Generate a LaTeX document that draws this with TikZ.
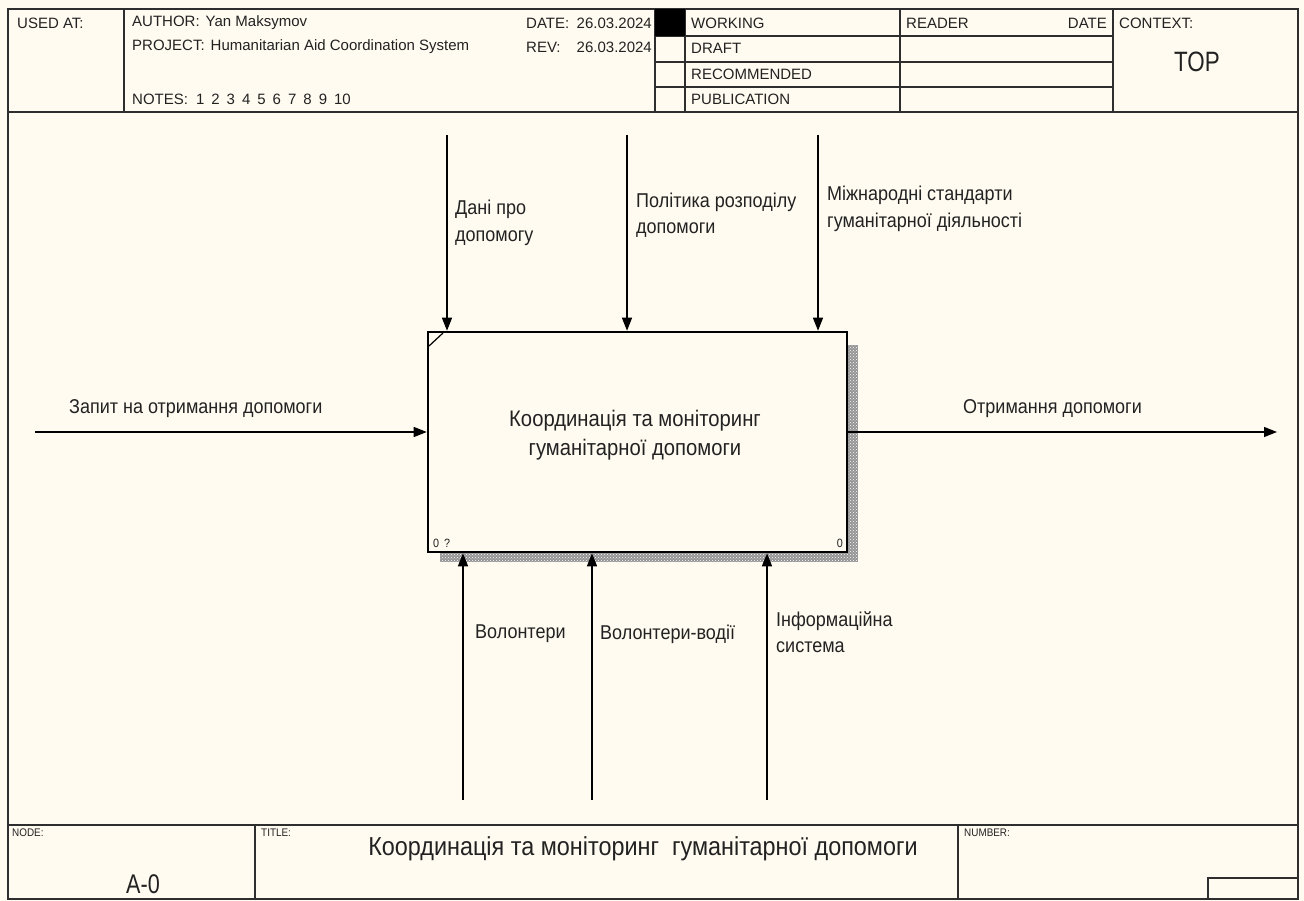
\documentclass[tikz,border=0pt]{standalone}
\usepackage{fontspec}
\setmainfont{Liberation Sans}
\newfontfamily\nf[FakeStretch=0.9]{Liberation Sans}
\newfontfamily\nnf[FakeStretch=0.8]{Liberation Sans}
\usetikzlibrary{arrows.meta,patterns}
\definecolor{bg}{HTML}{FFFBF0}
\definecolor{ln}{HTML}{2E2E2E}
\definecolor{tx}{HTML}{222222}
\tikzset{
  hdr/.style={font=\fontsize{15}{17}\selectfont, inner sep=0pt, anchor=west, text=tx},
  hdrr/.style={hdr, anchor=east},
  small/.style={font=\nf\fontsize{11}{12}\selectfont, inner sep=0pt, anchor=north west, text=tx},
  lbl/.style={font=\nf\fontsize{20}{26.5}\selectfont, inner sep=0pt, anchor=west, align=left, text=tx},
  flow/.style={draw=black, line width=1.4pt, -{Triangle[length=13pt,width=10pt]}},
  frameline/.style={draw=ln, line width=1.2pt},
  funcbox/.style={draw=black, line width=2.6pt, minimum width=419pt, minimum height=220pt, inner sep=0pt, fill=bg},
  shadowbase/.style={fill=black!42, draw=none},
  shadowtex/.style={pattern=crosshatch dots, pattern color=white!80, draw=none},
}
\begin{document}
\begin{tikzpicture}[x=1pt,y=-1pt]
\useasboundingbox (0,0) rectangle (1304,901);
\fill[bg] (0,0) rectangle (1304,901);

% ---------- frame ----------
\draw[frameline] (8,9) rectangle (1298,899);
% header
\draw[frameline] (8,112) -- (1298,112);
\draw[frameline] (124,9) -- (124,112);
\draw[frameline] (655,9) -- (655,112);
\draw[frameline] (685,9) -- (685,112);
\draw[frameline] (900,9) -- (900,112);
\draw[frameline] (1113,9) -- (1113,112);
\foreach \yy in {36,62,87} \draw[frameline] (655,\yy) -- (1113,\yy);
\fill[black] (655,9) rectangle (685,36);

\node[hdr] (usedat) at (17,23) {USED AT:};
\node[hdr] (author) at (132,23) {AUTHOR:\hspace{6pt}Yan Maksymov};
\node[hdr] (project) at (132,47) {PROJECT:\hspace{6pt}Humanitarian Aid Coordination System};
\node[hdr] (notes) at (132,99) {NOTES:\hspace{8pt}1\hspace{7pt}2\hspace{7pt}3\hspace{7pt}4\hspace{7pt}5\hspace{7pt}6\hspace{7pt}7\hspace{7pt}8\hspace{7pt}9\hspace{7pt}10};
\node[hdr] (datel) at (526,23) {DATE:};
\node[hdrr] (datev) at (652,23) {26.03.2024};
\node[hdr] (revl) at (526,47) {REV:};
\node[hdrr] (revv) at (652,47) {26.03.2024};
\node[hdr] (working) at (691,23) {WORKING};
\node[hdr] (draft) at (691,48) {DRAFT};
\node[hdr] (recom) at (691,74) {RECOMMENDED};
\node[hdr] (publ) at (691,99) {PUBLICATION};
\node[hdr] (reader) at (906,23) {READER};
\node[hdrr] (rdate) at (1107,23) {DATE};
\node[hdr] (context) at (1119,23) {CONTEXT:};
\node[font=\nnf\fontsize{28}{30}\selectfont, text=tx, inner sep=0pt] (top) at (1197,62) {TOP};

% footer
\draw[frameline] (8,825) -- (1298,825);
\draw[frameline] (255,825) -- (255,899);
\draw[frameline] (958,825) -- (958,899);
\draw[frameline] (1208,899) -- (1208,878) -- (1298,878);
\node[small] (nodel) at (12,829) {NODE:};
\node[small] (titlel) at (261,829) {TITLE:};
\node[small] (numberl) at (964,829) {NUMBER:};
\node[font=\nf\fontsize{26}{28}\selectfont, text=tx, inner sep=0pt] (title) at (643,849) {Координація та моніторинг\ \ гуманітарної допомоги};
\node[font=\nnf\fontsize{27}{30}\selectfont, text=tx, inner sep=0pt] (nodeid) at (143,884) {A-0};

% ---------- function box ----------
\fill[shadowbase] (847,345) rectangle (858,562);
\fill[shadowbase] (440,552) rectangle (847,562);
\fill[shadowtex] (847,345) rectangle (858,562);
\fill[shadowtex] (440,552) rectangle (847,562);
\node[funcbox] (box) at (637.5,442) {};
\draw[line width=1.2pt] (429,346) -- (443,333);
\node[font=\nf\fontsize{22.5}{29}\selectfont, text=tx, align=center, inner sep=0pt] (boxtxt) at (635,435) {Координація та моніторинг\\ гуманітарної допомоги};
\node[font=\nf\fontsize{12}{13}\selectfont, text=tx, inner sep=0pt, anchor=south west] (num1) at (433,548) {0\hspace{5pt}?};
\node[font=\nf\fontsize{12}{13}\selectfont, text=tx, inner sep=0pt, anchor=south east] (num2) at (843,548) {0};

% ---------- boundary coordinates ----------
\coordinate (inL) at (35,432);
\coordinate (outR) at (1277,432);
\coordinate (c1) at (447,135);
\coordinate (c2) at (627,135);
\coordinate (c3) at (818,135);
\coordinate (m1) at (463,800);
\coordinate (m2) at (592,800);
\coordinate (m3) at (767,800);

% ---------- arrows ----------
\draw[flow] (inL) -- (inL -| box.west);
\draw[flow] (inL -| box.east) -- (outR);
\draw[flow] (c1) -- (c1 |- box.north);
\draw[flow] (c2) -- (c2 |- box.north);
\draw[flow] (c3) -- (c3 |- box.north);
\draw[flow] (m1) -- (m1 |- box.south);
\draw[flow] (m2) -- (m2 |- box.south);
\draw[flow] (m3) -- (m3 |- box.south);

% ---------- labels ----------
\node[lbl] (l_in) at (69,409) {Запит на отримання допомоги};
\node[lbl] (l_out) at (963,409) {Отримання допомоги};
\node[lbl] (l_c1) at (455,223) {Дані про\\допомогу};
\node[lbl] (l_c2) at (636,215) {Політика розподілу\\допомоги};
\node[lbl] (l_c3) at (827,209) {Міжнародні стандарти\\гуманітарної діяльності};
\node[lbl] (l_m1) at (475,634) {Волонтери};
\node[lbl] (l_m2) at (600,634) {Волонтери-водії};
\node[lbl] (l_m3) at (776,632) {Інформаційна\\система};
\end{tikzpicture}
\end{document}
